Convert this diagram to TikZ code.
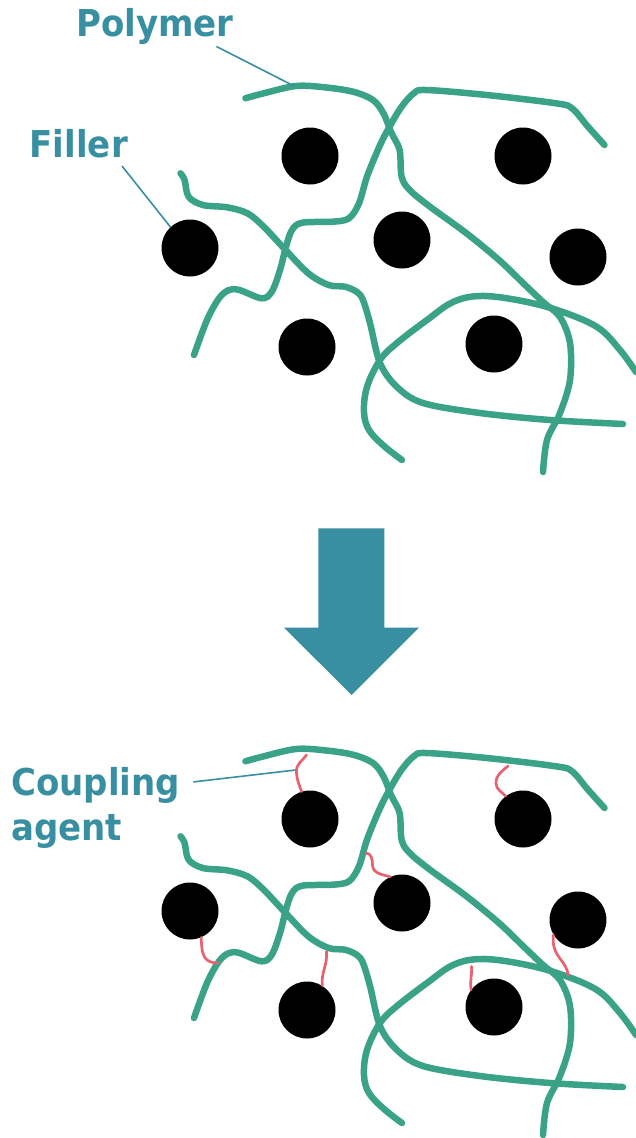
\documentclass[tikz,border=0pt]{standalone}
\usepackage{fontspec}
\newfontfamily\labelfont{DejaVu Sans}[FakeStretch=0.92]
\definecolor{labelteal}{RGB}{56,143,162}
\definecolor{polygreen}{RGB}{58,163,135}
\definecolor{agentred}{RGB}{232,98,112}
\tikzset{%
  polymer/.style = {draw=polygreen, line width=6.5pt, line cap=round, line join=round},%
  filler/.style  = {circle, fill=black, inner sep=0pt, minimum size=57pt},%
  agent/.style   = {draw=agentred, line width=2.7pt, line cap=round},%
  callout/.style = {draw=labelteal, line width=1.6pt},%
  lbl/.style     = {font=\labelfont\bfseries\fontsize{37}{45}\selectfont,%
                    text=labelteal, inner sep=0pt, anchor=base west}%
}
% one piece of the polymer network with its fillers
\newcommand{\network}{%
  \foreach \n/\x/\y in {1/310/156, 2/523/156, 3/190/248, 4/402/240,
                        5/578/257, 6/307/347, 7/494/344}
    \node[filler] (f\n) at (\x,\y) {};%
  \draw[polymer] plot[smooth, tension=0.55] coordinates {(245.4,98.3) (263.7,93.3)
    (296,86) (324.5,87.3) (353,91.7) (373,100) (383.4,113.3) (391.5,133) (399.6,150)
    (401.6,176.7) (409.7,190) (430,206.7) (466.5,233.3) (499,260) (523,283) (543,302)
    (560,317) (570,343) (570,380) (560,413) (547,440) (543,472)};%
  \draw[polymer] plot[smooth, tension=0.55] coordinates {(604.5,145) (588,126.7)
    (572,108.3) (555.8,103.3) (486.8,95) (426,90) (413.8,93.3) (401.6,106.7) (389.5,126.7)
    (379.3,146.7) (367,176.7) (359,203.3) (348.9,218.3) (332.7,221.7) (302.2,222.7)
    (292,230) (286,246.7) (280,270) (271.8,291.7) (261.7,298.3) (239.4,290) (229,290)
    (219,298.3) (207,320) (194,355)};%
  \draw[polymer] plot[smooth, tension=0.55] coordinates {(180.5,173.3) (184.6,180)
    (188.6,196.7) (202.8,205) (227,207.3) (247.5,213.3) (263.7,226.7) (284,248.3)
    (308.3,273.3) (328.6,285) (345,286.7) (357,292) (363,300) (370,323) (380,363)
    (397,387) (423,403) (480,413) (550,420) (623,424)};%
  \draw[polymer] plot[smooth, tension=0.6] coordinates {(402,460) (384,446) (369,430)
    (364,412) (367,387) (380,360) (397,343) (427,320) (453,302) (480,296) (517,300)
    (557,310) (597,327) (620,350) (636,372)};%
  \coordinate (hook) at (294,86);%
}

\begin{document}
\begin{tikzpicture}[x=1pt, y={(0pt,-1pt)}]
  \useasboundingbox (0,0) rectangle (636,1138);
  % before
  \begin{scope}[name prefix=top-]
    \network
  \end{scope}
  \node[lbl] (poly) at (76,36.7) {Polymer};
  \node[lbl] (fil) at (29.5,157.3) {Filler};
  \draw[callout] ([shift={(-17.5,1.6)}]poly.south east) -- (top-hook);
  \draw[callout] ([shift={(-6,8)}]fil.south east) -- (top-f3.133);
  % arrow
  \fill[labelteal] (318.3,528.3) -- (384.3,528.3) -- (384.3,627.7) -- (419,627.7)
    -- (351.7,695) -- (284,627.7) -- (318.3,627.7) -- cycle;
  % after
  \begin{scope}[shift={(0,663)}, name prefix=bot-]
    \network
    \draw[agent] (f1.107) to[out=110,in=-90] (296.5,108) to[out=90,in=-125] (306.5,92);
    \draw[agent] (f2.127) to[out=135,in=-90] (496,120) to[out=90,in=-140] (508,103);
    \draw[agent] (f4.114) to[out=165,in=-90] (372.5,202) to[out=90,in=0] (366,190);
    \draw[agent] (f5.211) to[out=-95,in=120] (557,291) to[out=-60,in=95] (568,312);
    \draw[agent] (f3.293) to[out=-88,in=180,looseness=1.3] (218,300);
    \draw[agent] (f6.58) to[out=95,in=-85] (326.5,288.5);
    \draw[agent] (f7.143) to[out=100,in=-85] (471.5,303.5);
    \coordinate (hook2) at (295.5,107);
  \end{scope}
  \node[lbl] (cpl) at (11,795) {Coupling};
  \node[lbl] (agt) at (11,840) {agent};
  \draw[callout] ([shift={(13,-3)}]cpl.east) -- (bot-hook2);
\end{tikzpicture}
\end{document}
